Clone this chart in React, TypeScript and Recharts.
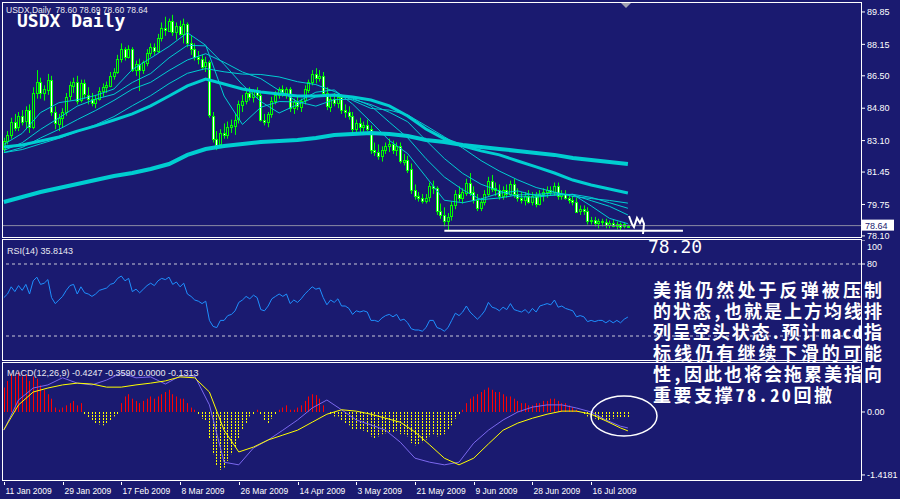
import React from 'react';
import { ComposedChart, Bar, Line, XAxis, YAxis, ReferenceLine } from 'recharts';

const BG = '#1a1a70';
const LIME = '#00ff00';
const TURQ = '#00ced1';
const AXIS_FONT = "Tahoma, 'Liberation Sans', Arial, sans-serif";
const SLOTS = 234;

// ---- price bars (daily OHLC, 11 Jan 2009 onwards) ----
const OPEN = [
  82.7, 83.1, 83.4, 84.1, 83.8, 84.4, 84.1, 84.7, 83.8, 85.6,
  86.2, 85.6, 85.8, 86.3, 84.6, 84.0, 84.3, 84.6, 85.4, 86.0,
  86.2, 85.2, 86.1, 85.5, 85.3, 85.1, 85.3, 85.7, 85.9, 86.0,
  86.5, 86.7, 87.4, 87.9, 87.5, 87.9, 86.8, 87.1, 86.8, 87.2,
  87.7, 88.0, 87.8, 88.5, 89.0, 88.9, 89.4, 88.8, 89.1, 88.7,
  89.2, 88.2, 87.9, 87.5, 87.4, 87.0, 87.2, 84.4, 83.2, 82.9,
  83.5, 83.4, 83.8, 83.9, 84.2, 85.0, 85.2, 85.6, 85.4, 85.7,
  85.5, 84.2, 84.1, 84.5, 85.2, 85.5, 85.8, 85.6, 85.8, 84.8,
  85.1, 84.9, 85.2, 85.8, 86.2, 86.6, 86.4, 86.5, 85.6, 84.9,
  85.3, 85.1, 85.4, 84.7, 84.6, 84.4, 83.7, 84.0, 83.8, 83.9,
  83.7, 82.6, 82.5, 82.3, 82.6, 82.8, 82.9, 82.6, 82.8, 82.0,
  82.1, 81.6, 80.5, 80.2, 80.1, 79.95, 80.1, 80.7, 80.6, 79.4,
  79.2, 78.9, 79.1, 79.7, 80.3, 80.1, 80.4, 80.9, 80.4, 80.0,
  79.6, 79.9, 80.3, 81.0, 80.6, 80.5, 80.2, 80.5, 80.3, 80.8,
  80.3, 80.1, 80.0, 80.2, 79.9, 80.2, 79.8, 80.3, 80.4, 80.5,
  80.4, 80.7, 80.2, 80.3, 80.1, 80.0, 79.9, 79.4, 79.5, 79.4,
  78.9, 78.95, 78.8, 78.9, 78.85, 78.7, 78.8, 78.65, 78.75, 78.6,
  78.6,
];
const HIGH = [
  83.25, 83.6, 84.3, 84.5, 84.6, 84.7, 84.9, 85.0, 85.9, 86.8,
  86.4, 86.0, 86.6, 86.5, 84.9, 84.5, 84.8, 85.6, 86.2, 86.4,
  86.5, 86.3, 86.3, 85.9, 85.6, 85.5, 85.9, 86.1, 86.2, 86.7,
  86.9, 87.6, 88.2, 88.0, 88.1, 88.0, 87.3, 87.4, 87.3, 87.9,
  88.2, 88.2, 88.7, 89.3, 89.6, 89.5, 89.7, 89.3, 89.4, 89.5,
  89.3, 88.6, 88.2, 87.8, 87.6, 87.5, 87.3, 84.6, 83.6, 83.7,
  84.0, 84.1, 84.2, 84.5, 85.2, 85.5, 85.8, 85.9, 85.8, 85.9,
  85.6, 84.5, 84.6, 85.4, 85.7, 85.9, 86.0, 85.9, 85.9, 85.3,
  85.4, 85.3, 86.0, 86.3, 86.8, 86.9, 86.8, 86.7, 85.9, 85.5,
  85.6, 85.6, 85.5, 85.0, 84.9, 84.6, 84.2, 84.3, 84.1, 84.2,
  83.9, 83.0, 82.9, 82.8, 83.0, 83.2, 83.1, 83.0, 83.0, 82.4,
  82.3, 81.9, 80.8, 80.4, 80.3, 80.3, 80.9, 81.0, 80.7, 79.8,
  79.6, 79.3, 79.9, 80.5, 80.7, 80.6, 81.1, 81.4, 80.7, 80.3,
  80.1, 80.5, 81.2, 81.3, 80.9, 80.8, 80.7, 80.8, 81.0, 81.1,
  80.6, 80.4, 80.4, 80.5, 80.4, 80.4, 80.5, 80.6, 80.7, 80.7,
  80.9, 80.9, 80.5, 80.5, 80.3, 80.2, 80.1, 79.7, 79.7, 79.6,
  79.1, 79.1, 79.0, 79.0, 79.0, 78.9, 78.95, 78.85, 78.8, 78.8,
  78.69,
];
const LOW = [
  82.45, 82.9, 83.2, 83.6, 83.6, 83.9, 83.7, 83.5, 83.7, 85.3,
  85.3, 85.2, 85.5, 84.4, 83.7, 83.6, 83.8, 84.4, 85.2, 85.6,
  85.0, 85.1, 85.3, 85.0, 84.9, 84.8, 85.2, 85.4, 85.6, 85.9,
  86.3, 86.6, 87.2, 87.3, 87.4, 86.7, 86.5, 85.7, 86.6, 87.0,
  87.5, 87.6, 87.7, 88.3, 88.6, 88.8, 88.6, 88.4, 88.6, 88.2,
  88.0, 87.6, 87.3, 87.1, 86.8, 86.7, 84.3, 83.0, 82.6, 82.8,
  83.2, 83.2, 83.5, 83.4, 84.0, 84.6, 85.0, 85.2, 85.1, 85.3,
  84.1, 83.9, 83.8, 84.3, 85.0, 85.3, 85.4, 85.3, 84.6, 84.5,
  84.7, 84.6, 85.0, 85.6, 86.0, 86.1, 86.2, 85.4, 84.7, 84.6,
  84.9, 84.8, 84.5, 84.3, 84.2, 83.5, 83.5, 83.5, 83.4, 83.6,
  82.4, 82.3, 82.1, 82.0, 82.4, 82.5, 82.4, 82.3, 81.9, 81.8,
  81.4, 80.3, 80.0, 79.9, 79.8, 79.8, 79.9, 80.3, 79.2, 79.0,
  78.6, 78.4, 78.9, 79.5, 79.9, 79.8, 80.2, 80.2, 79.8, 79.4,
  79.4, 79.7, 80.2, 80.4, 80.2, 80.0, 80.0, 80.1, 80.2, 80.1,
  79.9, 79.8, 79.7, 79.8, 79.7, 79.6, 79.7, 79.9, 80.1, 80.2,
  80.2, 80.0, 80.0, 80.0, 79.8, 79.7, 79.3, 79.2, 79.2, 78.7,
  78.7, 78.6, 78.5, 78.6, 78.5, 78.5, 78.55, 78.45, 78.4, 78.5,
  78.6,
];
const CLOSE = [
  83.1, 83.4, 84.1, 83.8, 84.4, 84.1, 84.7, 83.8, 85.6, 86.2,
  85.6, 85.8, 86.3, 84.6, 84.0, 84.3, 84.6, 85.4, 86.0, 86.2,
  85.2, 86.1, 85.5, 85.3, 85.1, 85.3, 85.7, 85.9, 86.0, 86.5,
  86.7, 87.4, 87.9, 87.5, 87.9, 86.8, 87.1, 86.8, 87.2, 87.7,
  88.0, 87.8, 88.5, 89.0, 88.9, 89.4, 88.8, 89.1, 88.7, 89.2,
  88.2, 87.9, 87.5, 87.4, 87.0, 87.2, 84.4, 83.2, 82.9, 83.5,
  83.4, 83.8, 83.9, 84.2, 85.0, 85.2, 85.6, 85.4, 85.7, 85.5,
  84.2, 84.1, 84.5, 85.2, 85.5, 85.8, 85.6, 85.8, 84.8, 85.1,
  84.9, 85.2, 85.8, 86.2, 86.6, 86.4, 86.5, 85.6, 84.9, 85.3,
  85.1, 85.4, 84.7, 84.6, 84.4, 83.7, 84.0, 83.8, 83.9, 83.7,
  82.6, 82.5, 82.3, 82.6, 82.8, 82.9, 82.6, 82.8, 82.0, 82.1,
  81.6, 80.5, 80.2, 80.1, 79.95, 80.1, 80.7, 80.6, 79.4, 79.2,
  78.9, 79.1, 79.7, 80.3, 80.1, 80.4, 80.9, 80.4, 80.0, 79.6,
  79.9, 80.3, 81.0, 80.6, 80.5, 80.2, 80.5, 80.3, 80.8, 80.3,
  80.1, 80.0, 80.2, 79.9, 80.2, 79.8, 80.3, 80.4, 80.5, 80.4,
  80.7, 80.2, 80.3, 80.1, 80.0, 79.9, 79.4, 79.5, 79.4, 78.9,
  78.95, 78.8, 78.9, 78.85, 78.7, 78.8, 78.65, 78.75, 78.6, 78.7,
  78.64,
];

// ---- moving averages, read every 5 bars ----
const MA_IDX = [0, 5, 10, 15, 20, 25, 30, 35, 40, 45, 50, 55, 60, 65, 70, 75, 80, 85, 90, 95, 100, 105, 110, 115, 120, 125, 130, 135, 140, 145, 150, 155, 160, 165, 170];
const MA_SLOW = [79.88, 80.14, 80.4, 80.61, 80.82, 81.03, 81.24, 81.4, 81.61, 81.87, 82.35, 82.66, 82.82, 82.92, 83.03, 83.08, 83.13, 83.24, 83.39, 83.45, 83.5, 83.45, 83.34, 83.13, 83.03, 82.87, 82.76, 82.66, 82.56, 82.45, 82.35, 82.19, 82.08, 81.98, 81.87];
const MA_MID = [82.76, 82.87, 83.08, 83.29, 83.6, 83.87, 84.18, 84.5, 84.92, 85.44, 85.97, 86.33, 86.07, 85.81, 85.65, 85.55, 85.44, 85.44, 85.49, 85.39, 85.23, 84.92, 84.39, 83.71, 83.19, 82.82, 82.56, 82.35, 82.03, 81.72, 81.4, 81.03, 80.77, 80.56, 80.35];
const MA_45 = [82.47, 82.63, 82.93, 83.22, 83.57, 83.93, 84.36, 84.93, 85.46, 86.09, 86.63, 86.88, 86.71, 86.59, 86.57, 86.44, 86.19, 86.04, 85.68, 85.21, 84.79, 84.7, 84.45, 83.88, 83.3, 82.71, 82.05, 81.5, 81.04, 80.64, 80.4, 80.17, 80.06, 79.96, 79.82];
const MA_30 = [82.47, 82.74, 83.24, 83.69, 84.2, 84.68, 85.21, 85.8, 86.16, 86.78, 87.33, 87.66, 87.21, 86.7, 86.35, 85.73, 85.14, 84.91, 85.25, 85.27, 84.99, 84.59, 84.09, 83.11, 82.16, 81.38, 80.81, 80.46, 80.16, 80.13, 80.25, 80.28, 80.12, 79.84, 79.55];
const MA_20 = [82.58, 82.99, 83.69, 84.29, 84.91, 85.28, 85.53, 86.15, 86.62, 87.44, 88.1, 88.07, 87.1, 86.03, 85.15, 84.55, 84.99, 85.4, 85.45, 85.33, 84.92, 84.07, 83.25, 82.15, 81.19, 80.52, 80.0, 80.09, 80.25, 80.28, 80.35, 80.25, 79.95, 79.65, 79.2];
const MA_10 = [82.9, 83.48, 84.57, 85.09, 85.24, 85.47, 85.81, 86.83, 87.43, 88.04, 88.76, 88.1, 85.44, 83.95, 84.85, 85.15, 85.13, 85.64, 85.76, 85.02, 84.08, 83.11, 82.42, 81.2, 79.97, 79.84, 80.04, 80.34, 80.46, 80.21, 80.24, 80.28, 79.67, 79.02, 78.74];

// ---- RSI(14) ----
const RSI = [
  52, 55, 61, 57, 62, 58, 63, 55, 66, 69,
  63, 64, 67, 52, 47, 50, 53, 58, 62, 63,
  55, 61, 56, 55, 53, 55, 58, 59, 60, 63,
  64, 68, 70, 66, 68, 57, 59, 56, 59, 62,
  64, 62, 66, 68, 67, 69, 63, 65, 61, 64,
  55, 53, 50, 49, 47, 49, 33, 28, 27, 33,
  33, 37, 38, 41, 48, 50, 53, 51, 54, 52,
  42, 41, 45, 51, 53, 55, 53, 55, 47, 50,
  48, 51, 55, 58, 61, 59, 60, 52, 46, 50,
  48, 51, 45, 45, 43, 38, 41, 40, 41, 40,
  33, 33, 32, 35, 37, 38, 36, 38, 33, 34,
  31, 26, 25, 25, 24, 27, 33, 33, 27, 26,
  24, 27, 33, 39, 37, 40, 45, 40, 37, 34,
  37, 41, 48, 44, 43, 41, 44, 42, 47, 42,
  41, 40, 42, 39, 43, 40, 45, 46, 47, 46,
  50, 44, 45, 43, 42, 41, 36, 37, 36, 32,
  33, 32, 33, 33, 31, 33, 31, 33, 31, 34,
  35.8143,
];

// ---- MACD(12,26,9) ----
const HIST = [
  0.55, 0.7, 0.85, 0.8, 0.9, 0.8, 0.85, 0.7, 0.8, 0.75, 0.6, 0.5,
  0.4, 0.3, 0.1, 0.05, 0.1, 0.15,
  0.2, 0.25, 0.15, 0.2,
  -0.05, -0.12, -0.2, -0.25, -0.28, -0.3, -0.25, -0.2, -0.1, -0.05,
  0.2, 0.35, 0.4, 0.3, 0.25, 0.2, 0.25, 0.3, 0.35, 0.3, 0.35,
  0.4, 0.45, 0.5, 0.4, 0.35, 0.3, 0.3, 0.2, 0.1, 0.05,
  -0.05, -0.15, -0.2,
  -0.6, -0.95, -1.2, -1.3, -1.25, -1.1, -0.95,
  -0.8, -0.6, -0.4, -0.25,
  -0.1, -0.05, 0.05, -0.05, -0.2, -0.25, -0.15, -0.05, 0.05,
  0.1, 0.15, 0.05, 0.05, 0.1, 0.15, 0.25,
  0.35, 0.4, 0.38, 0.3, 0.15, 0.0,
  -0.05, -0.1, -0.1, -0.2, -0.25, -0.3, -0.4, -0.4,
  -0.4, -0.42, -0.45, -0.55, -0.6, -0.55, -0.5, -0.48, -0.45, -0.45, -0.42, -0.5, -0.5, -0.55,
  -0.7, -0.75, -0.72, -0.68, -0.62, -0.55, -0.5, -0.55, -0.52, -0.5, -0.4, -0.3, -0.15, -0.05, 0.05,
  0.2, 0.3, 0.35, 0.4, 0.45, 0.5, 0.55, 0.5, 0.45, 0.45, 0.4, 0.35, 0.35, 0.3, 0.25,
  0.2, 0.2, 0.15, 0.15, 0.2, 0.2, 0.25, 0.25, 0.3, 0.3, 0.25, 0.2, 0.2, 0.15, 0.1, 0.05, 0.0,
  -0.05, -0.1, -0.12, -0.15, -0.18, -0.2, -0.2, -0.18, -0.15, -0.14, -0.13, -0.13, -0.1313,
];
const MACD_IDX = [0, 4, 8, 12, 16, 20, 24, 28, 32, 36, 40, 44, 48, 52, 56, 60, 64, 68, 72, 76, 80, 84, 88, 92, 96, 100, 104, 108, 112, 116, 120, 124, 128, 132, 136, 140, 144, 148, 152, 156, 160, 164, 168, 170];
const MACD_MAIN = [-0.4, 0.16, 0.45, 0.54, 0.61, 0.65, 0.63, 0.56, 0.56, 0.61, 0.65, 0.7, 0.79, 0.77, 0.45, -0.41, -0.9, -0.79, -0.63, -0.52, -0.41, -0.23, -0.05, 0.05, 0.02, -0.05, -0.14, -0.23, -0.45, -0.74, -1.04, -1.19, -1.04, -0.72, -0.41, -0.25, -0.14, -0.05, 0.02, 0.02, -0.05, -0.2, -0.36, -0.4247];
const MACD_SIGNAL = [-0.41, 0.27, 0.54, 0.61, 0.77, 0.65, 0.61, 0.72, 0.88, 0.77, 0.79, 0.63, 0.81, 0.81, 0.16, -1.13, -1.19, -0.81, -0.63, -0.41, -0.18, 0.09, 0.27, 0.05, -0.18, -0.29, -0.41, -0.68, -1.04, -1.13, -1.19, -1.13, -0.7, -0.41, -0.18, 0.0, 0.11, 0.16, 0.16, 0.09, 0.0, -0.18, -0.32, -0.359];

// ---- axes / labels ----
const PRICE_TICKS = [89.85, 88.15, 86.5, 84.8, 83.1, 81.45, 79.75, 78.1];
const RSI_TICKS = [100, 80];
const MACD_TICKS = [0, -1.4181];
const DATE_TICKS = [0, 16, 32, 48, 64, 80, 96, 112, 128, 144, 160];
const DATE_LABELS = ['11 Jan 2009', '29 Jan 2009', '17 Feb 2009', '8 Mar 2009', '26 Mar 2009', '14 Apr 2009', '3 May 2009', '21 May 2009', '9 Jun 2009', '28 Jun 2009', '16 Jul 2009'];
const LAST_PRICE = 78.64;
const SUPPORT = { from: 120, to: 185, price: 78.37 };
const NOTE_LINES = [
  '美指仍然处于反弹被压制',
  '的状态,也就是上方均线排',
  '列呈空头状态.预计macd指',
  '标线仍有继续下滑的可能',
  '性,因此也将会拖累美指向',
  '重要支撑78.20回撤',
];
const NOTE_WIDTHS = [229, 229, 229, 229, 229, 179];

type Row = { i: number; [key: string]: any };

const rows: Row[] = Array.from({ length: SLOTS }, (_, i) => {
  const r: Row = { i };
  if (i < CLOSE.length) {
    r.range = [LOW[i], HIGH[i]];
    r.o = OPEN[i];
    r.hi = HIGH[i];
    r.lo = LOW[i];
    r.c = CLOSE[i];
    r.rsi = RSI[i];
    r.hist = HIST[i];
  }
  return r;
});
MA_IDX.forEach((idx, k) => {
  rows[idx].maSlow = MA_SLOW[k];
  rows[idx].maMid = MA_MID[k];
  rows[idx].ma45 = MA_45[k];
  rows[idx].ma30 = MA_30[k];
  rows[idx].ma20 = MA_20[k];
  rows[idx].ma10 = MA_10[k];
});
MACD_IDX.forEach((idx, k) => {
  rows[idx].main = MACD_MAIN[k];
  rows[idx].signal = MACD_SIGNAL[k];
});

const Candle = (props: any) => {
  const { x, y, width, height, payload } = props;
  if (!payload || payload.hi == null || !isFinite(y)) return <g />;
  const top = Math.min(y, y + height);
  const h = Math.abs(height);
  const span = payload.hi - payload.lo || 1;
  const py = (p: number) => top + ((payload.hi - p) / span) * h;
  const cx = Math.round(x + width / 2) + 0.5;
  const yo = py(payload.o);
  const yc = py(payload.c);
  const bt = Math.round(Math.min(yo, yc)) + 0.5;
  const bh = Math.max(Math.round(Math.abs(yc - yo)), 1);
  const bull = payload.c >= payload.o;
  return (
    <g>
      <line x1={cx} x2={cx} y1={top} y2={top + h} stroke={LIME} strokeWidth={1} />
      <rect x={cx - 1} y={bt} width={2} height={bh} fill={bull ? BG : '#ffffff'} stroke={LIME} strokeWidth={1} />
    </g>
  );
};

const HistBar = (props: any) => {
  const { x, y, width, height, payload } = props;
  if (!payload || payload.hist == null || !isFinite(y)) return <g />;
  const top = Math.min(y, y + height);
  const h = Math.abs(height);
  const cx = Math.round(x + width / 2) + 0.5;
  const pos = payload.hist >= 0;
  return (
    <line x1={cx} x2={cx} y1={top} y2={top + h} stroke={pos ? '#ff0000' : '#ffff00'} strokeWidth={1} strokeDasharray={pos ? undefined : '2 1'} />
  );
};

const PriceTag = (props: any) => {
  const vb = props.viewBox || {};
  const yy = vb.y ?? 0;
  return (
    <g>
      <rect x={862} y={yy - 6} width={32} height={11} fill="#ffffff" />
      <text x={865} y={yy + 3} fontSize={9} fontFamily={AXIS_FONT} fill={BG}>{LAST_PRICE.toFixed(2)}</text>
    </g>
  );
};

const RsiTick = (props: any) => {
  const { x, y, payload } = props;
  const ty = payload.value === 100 ? y + 7 : y;
  return (
    <g>
      <line x1={x - 6} x2={x - 2} y1={y} y2={y} stroke="#ffffff" />
      <text x={x} y={ty} dy="0.35em" fontSize={9} fontFamily={AXIS_FONT} fill="#ffffff">{payload.value}</text>
    </g>
  );
};

const DateTick = (props: any) => {
  const { x, y, payload, index } = props;
  const k = DATE_TICKS.indexOf(payload.value);
  const label = DATE_LABELS[k >= 0 ? k : index] || '';
  const lx = Math.round(x) + 0.5;
  return (
    <g>
      <line x1={lx} x2={lx} y1={y + 1} y2={y + 4} stroke="#ffffff" />
      <text x={lx + 1} y={y + 13} fontSize={8.5} fontFamily={AXIS_FONT} fill="#ffffff">{label}</text>
    </g>
  );
};

const tickStyle = { fill: '#ffffff', fontSize: 9, fontFamily: AXIS_FONT };

export default function App() {
  return (
    <div style={{ position: 'absolute', left: 0, top: 0, width: 900, height: 499, background: BG, overflow: 'hidden' }}>
      <div style={{ position: 'absolute', left: 0, top: 0 }}>
        <ComposedChart width={900} height={242} data={rows} margin={{ top: 3, right: 0, bottom: 4, left: 2 }}>
          <XAxis dataKey="i" type="category" scale="band" hide />
          <YAxis
            orientation="right"
            width={39}
            domain={[77.99, 90.32]}
            ticks={PRICE_TICKS}
            interval={0}
            allowDataOverflow
            axisLine={false}
            tickLine={{ stroke: '#ffffff' }}
            tickSize={4}
            tickMargin={2}
            tick={tickStyle}
            tickFormatter={(v: number) => v.toFixed(2)}
          />
          <ReferenceLine y={LAST_PRICE} stroke="#8c8ca4" strokeWidth={1} label={(p: any) => <PriceTag {...p} />} />
          <Bar dataKey="range" barSize={3} shape={Candle} isAnimationActive={false} />
          <Line dataKey="maSlow" stroke={TURQ} strokeWidth={4} dot={false} connectNulls isAnimationActive={false} />
          <Line dataKey="maMid" stroke={TURQ} strokeWidth={3} dot={false} connectNulls isAnimationActive={false} />
          <Line dataKey="ma45" stroke={TURQ} strokeWidth={1} dot={false} connectNulls isAnimationActive={false} />
          <Line dataKey="ma30" stroke={TURQ} strokeWidth={1} dot={false} connectNulls isAnimationActive={false} />
          <Line dataKey="ma20" stroke={TURQ} strokeWidth={1} dot={false} connectNulls isAnimationActive={false} />
          <Line dataKey="ma10" stroke={TURQ} strokeWidth={1} dot={false} connectNulls isAnimationActive={false} />
          <ReferenceLine
            segment={[{ x: SUPPORT.from, y: SUPPORT.price }, { x: SUPPORT.to, y: SUPPORT.price }]}
            stroke="#ffffff"
            strokeWidth={2}
          />
        </ComposedChart>
      </div>

      <div style={{ position: 'absolute', left: 0, top: 240 }}>
        <ComposedChart width={900} height={120} data={rows} margin={{ top: 0, right: 0, bottom: 0, left: 2 }}>
          <XAxis dataKey="i" type="category" scale="band" hide />
          <YAxis
            orientation="right"
            width={39}
            domain={[0, 100]}
            ticks={RSI_TICKS}
            interval={0}
            axisLine={false}
            tickLine={false}
            tickSize={4}
            tickMargin={2}
            tick={<RsiTick />}
          />
          <ReferenceLine y={80} stroke="#c8c8d8" strokeDasharray="3 3" />
          <ReferenceLine y={20} stroke="#c8c8d8" strokeDasharray="3 3" />
          <Line dataKey="rsi" stroke="#1e90ff" strokeWidth={1} dot={false} isAnimationActive={false} />
        </ComposedChart>
      </div>

      <div style={{ position: 'absolute', left: 0, top: 362 }}>
        <ComposedChart width={900} height={137} data={rows} margin={{ top: 0, right: 0, bottom: 0, left: 2 }}>
          <XAxis
            dataKey="i"
            type="category"
            scale="band"
            height={18}
            ticks={DATE_TICKS}
            interval={0}
            axisLine={false}
            tickLine={false}
            tickSize={0}
            tickMargin={0}
            tick={<DateTick />}
          />
          <YAxis
            orientation="right"
            width={39}
            domain={[-1.554, 1.126]}
            ticks={MACD_TICKS}
            interval={0}
            allowDataOverflow
            axisLine={false}
            tickLine={{ stroke: '#ffffff' }}
            tickSize={4}
            tickMargin={2}
            tick={tickStyle}
            tickFormatter={(v: number) => (v === 0 ? '0.00' : String(v))}
          />
          <Bar dataKey="hist" barSize={1} shape={HistBar} isAnimationActive={false} />
          <Line dataKey="signal" stroke="#7b68ee" strokeWidth={1} dot={false} connectNulls isAnimationActive={false} />
          <Line dataKey="main" stroke="#ffff00" strokeWidth={1} dot={false} connectNulls isAnimationActive={false} />
        </ComposedChart>
      </div>

      <svg width={900} height={499} style={{ position: 'absolute', left: 0, top: 0, pointerEvents: 'none' }}>
        {/* panel frames */}
        <rect x={2.5} y={2.5} width={859} height={235} fill="none" stroke="#ffffff" />
        <rect x={2.5} y={239.5} width={859} height={121} fill="none" stroke="#ffffff" />
        <rect x={2.5} y={362.5} width={859} height={118} fill="none" stroke="#ffffff" />
        <polygon points="621,3 631,3 626,8" fill="#a0a0b0" />

        <text x={6} y={13} fontSize={8.5} fontFamily={AXIS_FONT} fill="#e8e8f0" style={{ whiteSpace: 'pre' }}>
          {'USDX,Daily  78.60 78.69 78.60 78.64'}
        </text>
        <text x={17} y={27} fontSize={18} fontWeight="bold" fontFamily="'DejaVu Sans Mono', monospace" fill="#ffffff">
          USDX Daily
        </text>
        <text x={7} y={254} fontSize={9} fontFamily={AXIS_FONT} fill="#e8e8f0">RSI(14) 35.8143</text>
        <text x={7} y={376} fontSize={9} fontFamily={AXIS_FONT} fill="#e8e8f0" style={{ whiteSpace: 'pre' }}>
          {'MACD(12,26,9) -0.4247 -0.3590 0.0000 -0.1313'}
        </text>

        {/* hand annotations */}
        <polyline points="629,216 632,224 634,227 637,218 640,223 642,219 644,224 643,234" fill="none" stroke="#ffffff" strokeWidth={2} />
        <text x={648} y={253} fontSize={18} fontFamily="'DejaVu Sans Mono', monospace" fill="#ffffff">78.20</text>
        {NOTE_LINES.map((t, k) => (
          <text
            key={k}
            x={653}
            y={297 + k * 21}
            fontSize={18}
            fontWeight="bold"
            textLength={NOTE_WIDTHS[k]}
            lengthAdjust="spacing"
            fontFamily="'Noto Sans Mono CJK SC', 'Noto Sans CJK SC', sans-serif"
            fill="#ffffff"
          >
            {t}
          </text>
        ))}
        <ellipse cx={624} cy={416} rx={33} ry={20} fill="none" stroke="#ffffff" strokeWidth={1.5} />
      </svg>
    </div>
  );
}
